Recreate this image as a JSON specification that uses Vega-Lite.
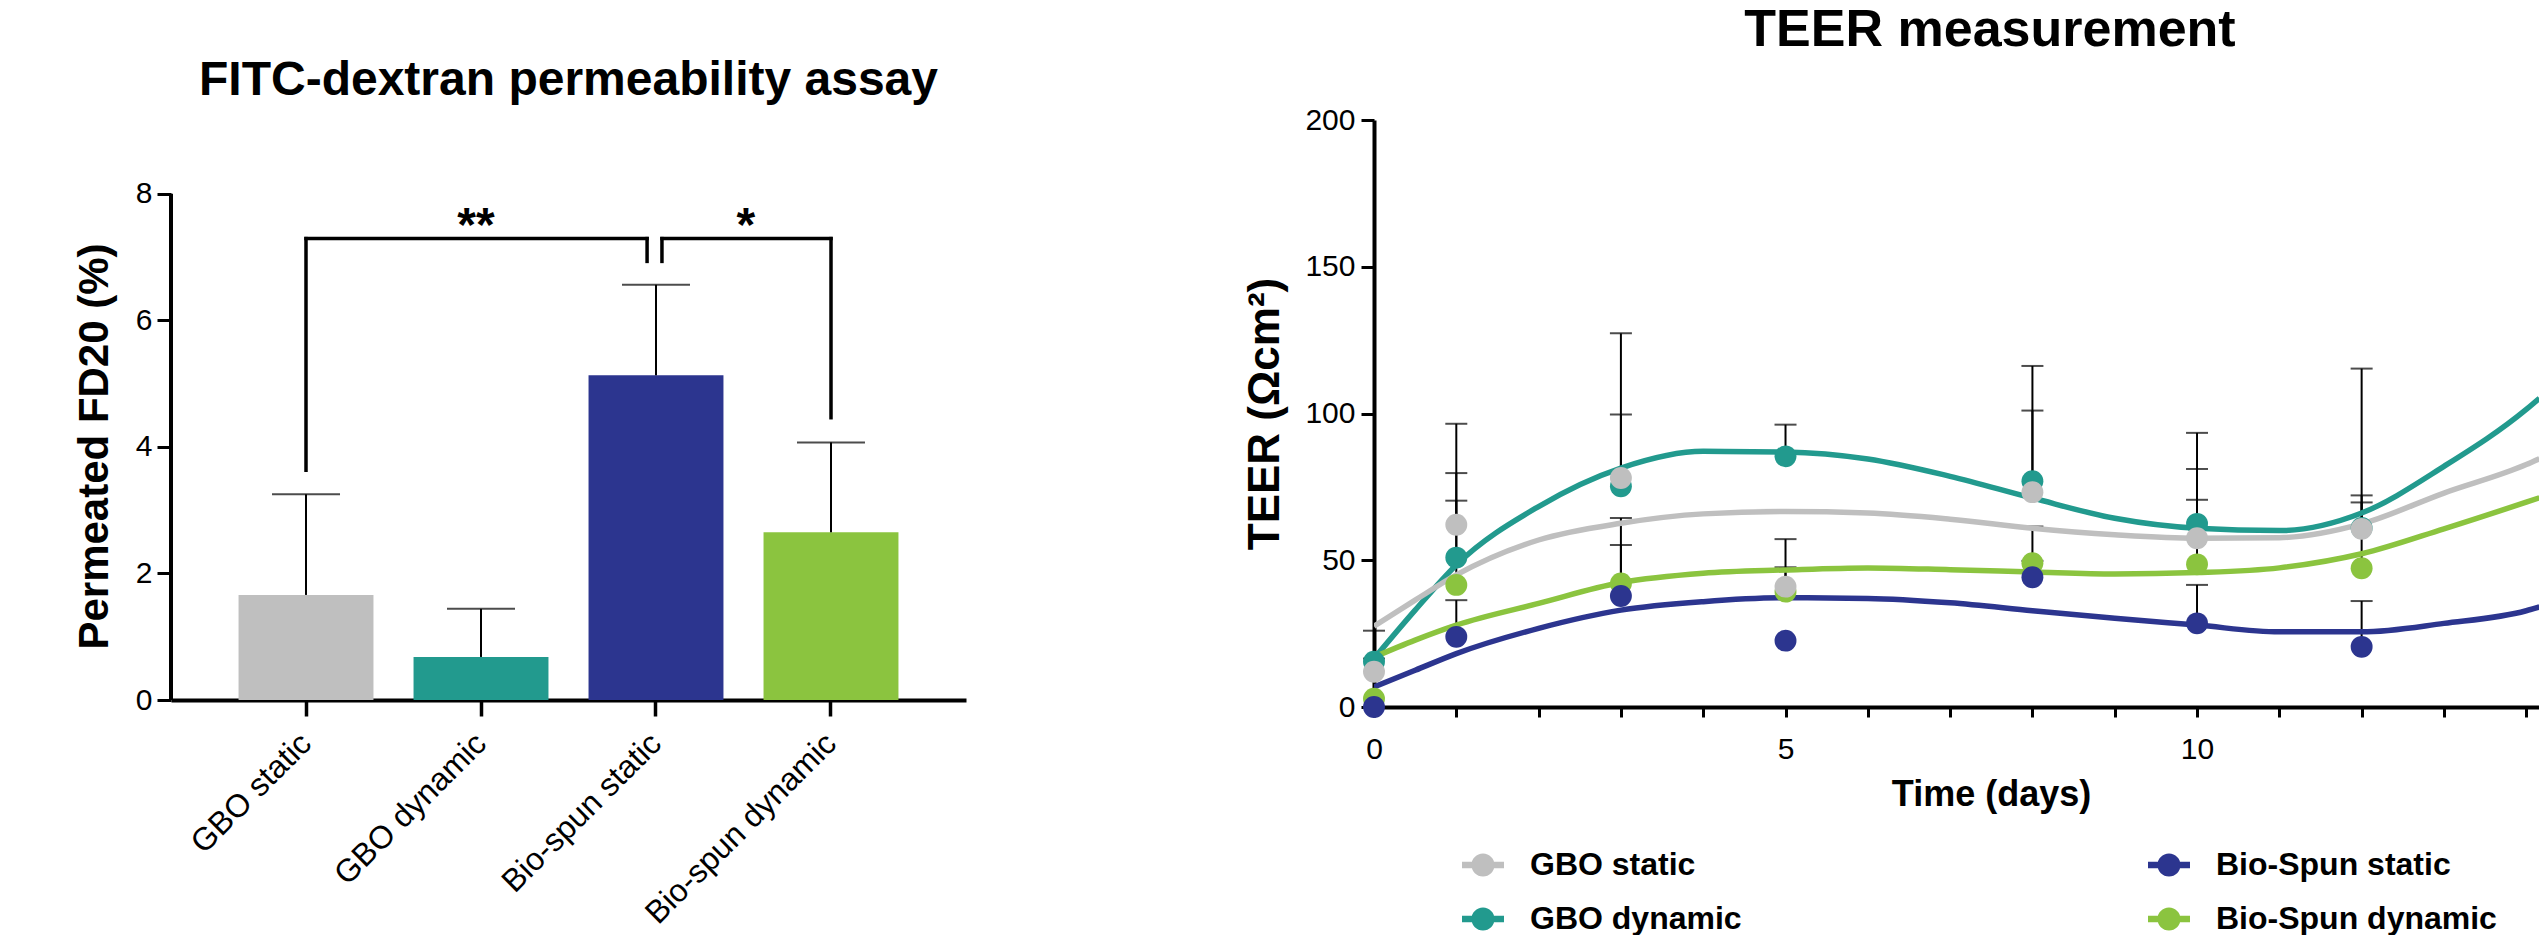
{
  "$schema": "https://vega.github.io/schema/vega-lite/v6.json",
  "padding": {"left": 73, "top": 4, "right": 0, "bottom": 0},
  "background": "white",
  "config": {
    "font": "Liberation Sans",
    "view": {"stroke": null},
    "axis": {"domainColor": "black", "tickColor": "black", "labelColor": "black", "titleColor": "black", "grid": false, "labelFont": "Liberation Sans", "titleFont": "Liberation Sans", "titleFontWeight": "bold"},
    "title": {"color": "black", "font": "Liberation Sans", "fontWeight": "bold", "frame": "group", "anchor": "middle"}
  },
  "spacing": 277,
  "resolve": {"scale": {"color": "independent"}, "legend": {"color": "independent"}},
  "hconcat": [
    {
      "width": 795,
      "height": 580,
      "title": {"text": "FITC-dextran permeability assay", "fontSize": 48, "offset": 15},
      "layer": [
        {
          "data": {"values": [
            {"group": "GBO static", "mean": 1.66, "upper": 3.25},
            {"group": "GBO dynamic", "mean": 0.68, "upper": 1.44},
            {"group": "Bio-spun static", "mean": 5.13, "upper": 6.56},
            {"group": "Bio-spun dynamic", "mean": 2.65, "upper": 4.07}
          ]},
          "encoding": {
            "x": {"field": "group", "type": "nominal", "sort": null,
              "scale": {"paddingInner": 0.229, "paddingOuter": 0.386},
              "axis": {"title": null, "tickSize": 16, "tickWidth": 3.5, "domainWidth": 4, "labelAngle": -45, "labelAlign": "right", "labelBaseline": "middle", "labelPadding": 22, "labelFontSize": 32, "labelLimit": 600}},
            "y": {"field": "mean", "type": "quantitative",
              "scale": {"domain": [0, 9.164], "nice": false},
              "axis": {"title": "Permeated FD20 (%)", "values": [0, 2, 4, 6, 8], "format": "d", "domain": false, "tickSize": 14, "tickWidth": 3, "labelFontSize": 30, "labelPadding": 5, "titleFontSize": 42, "titlePadding": 19, "titleY": 326}}
          },
          "layer": [
            {"mark": {"type": "bar"},
             "encoding": {"color": {"field": "group", "type": "nominal", "legend": null,
               "scale": {"domain": ["GBO static", "GBO dynamic", "Bio-spun static", "Bio-spun dynamic"], "range": ["#BFBFBF", "#229A8E", "#2C358F", "#8BC43F"]}}}},
            {"mark": {"type": "rule", "color": "black", "strokeWidth": 2},
             "encoding": {"y2": {"field": "upper"}}},
            {"mark": {"type": "tick", "orient": "horizontal", "color": "black", "size": 68, "thickness": 2},
             "encoding": {"y": {"field": "upper", "type": "quantitative"}}}
          ]
        },
        {
          "layer": [
            {
              "data": {"values": [
                {"x": 0.2286, "x2": 0.2286, "y": 0, "y2": 8}
              ]},
              "mark": {"type": "rule", "color": "black", "strokeWidth": 4},
              "encoding": {
                "x": {"field": "x", "type": "quantitative", "scale": {"domain": [0.2286, 4.7714], "nice": false, "zero": false}, "axis": null},
                "x2": {"field": "x2"},
                "y": {"field": "y", "type": "quantitative"},
                "y2": {"field": "y2"}
              }
            },
            {
              "data": {"values": [
                {"x": 1, "x2": 2.949, "y": 7.29, "y2": 7.29},
                {"x": 1, "x2": 1, "y": 3.63, "y2": 7.29},
                {"x": 2.949, "x2": 2.949, "y": 6.93, "y2": 7.29},
                {"x": 3.034, "x2": 4, "y": 7.29, "y2": 7.29},
                {"x": 3.034, "x2": 3.034, "y": 6.93, "y2": 7.29},
                {"x": 4, "x2": 4, "y": 4.46, "y2": 7.29}
              ]},
              "mark": {"type": "rule", "color": "black", "strokeWidth": 3.5, "strokeCap": "square"},
              "encoding": {
                "x": {"field": "x", "type": "quantitative", "scale": {"domain": [0.2286, 4.7714], "nice": false, "zero": false}, "axis": null},
                "x2": {"field": "x2"},
                "y": {"field": "y", "type": "quantitative"},
                "y2": {"field": "y2"}
              }
            },
            {
              "data": {"values": [
                {"x": 1.971, "y": 7.25, "label": "**"},
                {"x": 3.514, "y": 7.25, "label": "*"}
              ]},
              "mark": {"type": "text", "fontSize": 48, "fontWeight": "bold", "align": "center", "baseline": "alphabetic", "color": "black"},
              "encoding": {
                "x": {"field": "x", "type": "quantitative", "scale": {"domain": [0.2286, 4.7714], "nice": false, "zero": false}, "axis": null},
                "y": {"field": "y", "type": "quantitative"},
                "text": {"field": "label"}
              }
            }
          ]
        }
      ],
      "resolve": {"scale": {"x": "independent"}, "axis": {"x": "independent"}}
    },
    {
      "width": 1165,
      "height": 587,
      "title": {"text": "TEER measurement", "fontSize": 52, "dx": 33.5, "offset": 48},
      "encoding": {
        "x": {"field": "day", "type": "quantitative",
          "scale": {"domain": [0, 14.155], "nice": false, "zero": false},
          "axis": {"title": "Time (days)", "values": [0, 1, 2, 3, 4, 5, 6, 7, 8, 9, 10, 11, 12, 13, 14], "labelExpr": "datum.value % 5 === 0 ? datum.label : ''", "labelFlush": false, "labelOverlap": false, "tickSize": 10, "tickWidth": 3, "domainWidth": 4, "labelFontSize": 30, "labelPadding": 17, "titleFontSize": 36, "titleX": 617, "titleY": 70, "titleBaseline": "top", "titleAlign": "center"}},
        "y": {"field": "value", "type": "quantitative",
          "scale": {"domain": [0, 200], "nice": false},
          "axis": {"title": "TEER (Ωcm²)", "values": [0, 50, 100, 150, 200], "tickSize": 13, "tickWidth": 3, "domainWidth": 4, "labelFontSize": 30, "labelPadding": 6, "titleFontSize": 44, "titlePadding": 17}}
      },
      "layer": [
        {
          "data": {"name": "pts", "values": [
            {"series": "GBO dynamic", "day": 0, "value": 15.4, "upper": 16.5},
            {"series": "GBO dynamic", "day": 1, "value": 50.9, "upper": 79.7},
            {"series": "GBO dynamic", "day": 3, "value": 75.2, "upper": 99.7},
            {"series": "GBO dynamic", "day": 5, "value": 85.4, "upper": 96.2},
            {"series": "GBO dynamic", "day": 8, "value": 76.9, "upper": 116.2},
            {"series": "GBO dynamic", "day": 10, "value": 62.4, "upper": 93.4},
            {"series": "GBO dynamic", "day": 12, "value": 61.0, "upper": 72.1},
            {"series": "Bio-Spun dynamic", "day": 0, "value": 2.8, "upper": null},
            {"series": "Bio-Spun dynamic", "day": 1, "value": 41.6, "upper": 70.3},
            {"series": "Bio-Spun dynamic", "day": 3, "value": 42.1, "upper": 64.4},
            {"series": "Bio-Spun dynamic", "day": 5, "value": 39.3, "upper": 47.6},
            {"series": "Bio-Spun dynamic", "day": 8, "value": 49.0, "upper": 61.5},
            {"series": "Bio-Spun dynamic", "day": 10, "value": 48.6, "upper": 70.6},
            {"series": "Bio-Spun dynamic", "day": 12, "value": 47.3, "upper": 69.7},
            {"series": "GBO static", "day": 0, "value": 12.0, "upper": 26.0},
            {"series": "GBO static", "day": 1, "value": 62.1, "upper": 96.5},
            {"series": "GBO static", "day": 3, "value": 78.0, "upper": 127.3},
            {"series": "GBO static", "day": 5, "value": 41.0, "upper": 57.2},
            {"series": "GBO static", "day": 8, "value": 73.2, "upper": 101.0},
            {"series": "GBO static", "day": 10, "value": 57.5, "upper": 81.1},
            {"series": "GBO static", "day": 12, "value": 60.7, "upper": 115.3},
            {"series": "Bio-Spun static", "day": 0, "value": 0, "upper": null},
            {"series": "Bio-Spun static", "day": 1, "value": 23.9, "upper": 36.4},
            {"series": "Bio-Spun static", "day": 3, "value": 37.8, "upper": 55.2},
            {"series": "Bio-Spun static", "day": 5, "value": 22.6, "upper": null},
            {"series": "Bio-Spun static", "day": 8, "value": 44.2, "upper": 49.8},
            {"series": "Bio-Spun static", "day": 10, "value": 28.5, "upper": 41.6},
            {"series": "Bio-Spun static", "day": 12, "value": 20.5, "upper": 36.1}
          ]},
          "transform": [{"filter": "datum.upper != null"}],
          "mark": {"type": "rule", "color": "black", "strokeWidth": 2},
          "encoding": {"y2": {"field": "upper"}}
        },
        {
          "data": {"name": "pts"},
          "transform": [{"filter": "datum.upper != null"}],
          "mark": {"type": "tick", "orient": "horizontal", "color": "black", "size": 22, "thickness": 2},
          "encoding": {"y": {"field": "upper", "type": "quantitative"}}
        },
        {
          "data": {"values": [
            {"series": "GBO dynamic", "day": 0, "value": 16.5},
            {"series": "GBO dynamic", "day": 0.5, "value": 33.0},
            {"series": "GBO dynamic", "day": 1, "value": 48.4},
            {"series": "GBO dynamic", "day": 2, "value": 68.3},
            {"series": "GBO dynamic", "day": 3, "value": 81.4},
            {"series": "GBO dynamic", "day": 4, "value": 87.1},
            {"series": "GBO dynamic", "day": 5, "value": 86.9},
            {"series": "GBO dynamic", "day": 6, "value": 84.5},
            {"series": "GBO dynamic", "day": 7, "value": 78.6},
            {"series": "GBO dynamic", "day": 8, "value": 71.2},
            {"series": "GBO dynamic", "day": 9, "value": 64.3},
            {"series": "GBO dynamic", "day": 10, "value": 60.9},
            {"series": "GBO dynamic", "day": 11, "value": 60.1},
            {"series": "GBO dynamic", "day": 12, "value": 66.1},
            {"series": "GBO dynamic", "day": 13, "value": 82.0},
            {"series": "GBO dynamic", "day": 14, "value": 101.4},
            {"series": "GBO dynamic", "day": 14.16, "value": 105.2},
            {"series": "GBO static", "day": 0, "value": 27.5},
            {"series": "GBO static", "day": 0.5, "value": 36.4},
            {"series": "GBO static", "day": 1, "value": 45.0},
            {"series": "GBO static", "day": 2, "value": 56.9},
            {"series": "GBO static", "day": 3, "value": 62.6},
            {"series": "GBO static", "day": 4, "value": 65.8},
            {"series": "GBO static", "day": 5, "value": 66.6},
            {"series": "GBO static", "day": 6, "value": 66.1},
            {"series": "GBO static", "day": 7, "value": 64.0},
            {"series": "GBO static", "day": 8, "value": 60.9},
            {"series": "GBO static", "day": 9, "value": 58.7},
            {"series": "GBO static", "day": 10, "value": 57.5},
            {"series": "GBO static", "day": 11, "value": 57.7},
            {"series": "GBO static", "day": 12, "value": 62.4},
            {"series": "GBO static", "day": 13, "value": 72.9},
            {"series": "GBO static", "day": 14, "value": 82.6},
            {"series": "GBO static", "day": 14.16, "value": 84.6},
            {"series": "Bio-Spun dynamic", "day": 0, "value": 17.0},
            {"series": "Bio-Spun dynamic", "day": 0.5, "value": 22.8},
            {"series": "Bio-Spun dynamic", "day": 1, "value": 27.9},
            {"series": "Bio-Spun dynamic", "day": 2, "value": 35.3},
            {"series": "Bio-Spun dynamic", "day": 3, "value": 42.4},
            {"series": "Bio-Spun dynamic", "day": 4, "value": 45.6},
            {"series": "Bio-Spun dynamic", "day": 5, "value": 46.7},
            {"series": "Bio-Spun dynamic", "day": 6, "value": 47.4},
            {"series": "Bio-Spun dynamic", "day": 7, "value": 46.8},
            {"series": "Bio-Spun dynamic", "day": 8, "value": 46.0},
            {"series": "Bio-Spun dynamic", "day": 9, "value": 45.3},
            {"series": "Bio-Spun dynamic", "day": 10, "value": 45.8},
            {"series": "Bio-Spun dynamic", "day": 11, "value": 47.4},
            {"series": "Bio-Spun dynamic", "day": 12, "value": 52.2},
            {"series": "Bio-Spun dynamic", "day": 13, "value": 60.7},
            {"series": "Bio-Spun dynamic", "day": 14, "value": 69.8},
            {"series": "Bio-Spun dynamic", "day": 14.16, "value": 71.3},
            {"series": "Bio-Spun static", "day": 0, "value": 6.8},
            {"series": "Bio-Spun static", "day": 0.5, "value": 12.5},
            {"series": "Bio-Spun static", "day": 1, "value": 18.2},
            {"series": "Bio-Spun static", "day": 2, "value": 26.8},
            {"series": "Bio-Spun static", "day": 3, "value": 33.0},
            {"series": "Bio-Spun static", "day": 4, "value": 35.9},
            {"series": "Bio-Spun static", "day": 5, "value": 37.2},
            {"series": "Bio-Spun static", "day": 6, "value": 37.0},
            {"series": "Bio-Spun static", "day": 7, "value": 35.5},
            {"series": "Bio-Spun static", "day": 8, "value": 32.8},
            {"series": "Bio-Spun static", "day": 9, "value": 30.2},
            {"series": "Bio-Spun static", "day": 10, "value": 27.9},
            {"series": "Bio-Spun static", "day": 11, "value": 25.6},
            {"series": "Bio-Spun static", "day": 12, "value": 25.6},
            {"series": "Bio-Spun static", "day": 13, "value": 28.5},
            {"series": "Bio-Spun static", "day": 14, "value": 32.8},
            {"series": "Bio-Spun static", "day": 14.16, "value": 34.1}
          ]},
          "mark": {"type": "line", "strokeWidth": 5.5, "interpolate": "monotone", "clip": true},
          "encoding": {
            "stroke": {"field": "series", "type": "nominal", "legend": null,
              "scale": {"domain": ["GBO static", "GBO dynamic", "Bio-Spun static", "Bio-Spun dynamic"], "range": ["#BFBFBF", "#229A8E", "#2C358F", "#8BC43F"]}}
          }
        },
        {
          "data": {"name": "pts"},
          "mark": {"type": "point", "filled": true, "size": 480, "opacity": 1, "shape": "circle"},
          "encoding": {
            "color": {"field": "series", "type": "nominal",
              "scale": {"domain": ["GBO static", "GBO dynamic", "Bio-Spun static", "Bio-Spun dynamic"], "range": ["#BFBFBF", "#229A8E", "#2C358F", "#8BC43F"]},
              "legend": {"orient": "none", "legendX": 88, "legendY": 724, "columns": 2, "columnPadding": 406, "rowPadding": 17, "symbolType": "M-1,-0.15L1,-0.15L1,0.15L-1,0.15Z M0,-0.55A0.55,0.55 0 1,1 0,0.55A0.55,0.55 0 1,1 0,-0.55Z", "symbolSize": 1764, "symbolStrokeWidth": 0, "symbolOpacity": 1, "labelFontSize": 32, "labelFontWeight": "bold", "labelFont": "Liberation Sans", "labelColor": "black", "labelOffset": 26, "labelLimit": 500, "title": null, "padding": 0}}
          }
        }
      ]
    }
  ]
}
